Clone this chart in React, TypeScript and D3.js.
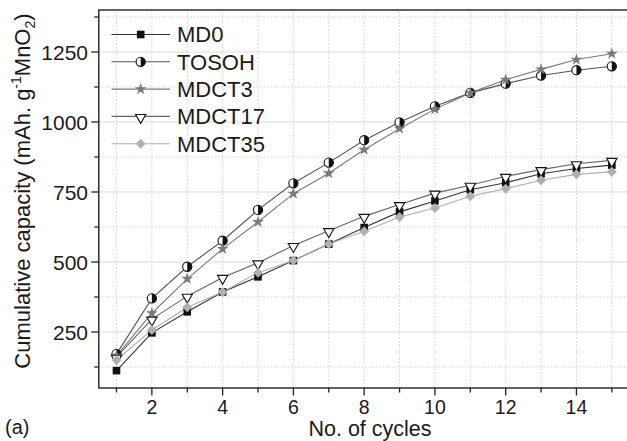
import React from "react";
import * as d3 from "d3";

const CYCLES = [1, 2, 3, 4, 5, 6, 7, 8, 9, 10, 11, 12, 13, 14, 15];
const MD0 = [112, 247, 322, 393, 447, 505, 564, 623, 679, 718, 758, 783, 815, 834, 846];
const TOSOH = [171, 370, 483, 576, 686, 781, 855, 935, 999, 1056, 1104, 1137, 1166, 1185, 1199];
const MDCT3 = [165, 317, 440, 547, 643, 744, 817, 901, 976, 1046, 1104, 1151, 1188, 1223, 1244];
const MDCT17 = [160, 296, 378, 445, 497, 559, 612, 663, 705, 746, 774, 806, 830, 851, 863];
const MDCT35 = [150, 257, 338, 393, 462, 505, 564, 610, 661, 693, 735, 762, 792, 813, 822];

const SERIES_NAMES = ["MD0", "TOSOH", "MDCT3", "MDCT17", "MDCT35"];
const SERIES_VALUES = [MD0, TOSOH, MDCT3, MDCT17, MDCT35];

const X_MAJOR_TICKS = [2, 4, 6, 8, 10, 12, 14];
const X_MINOR_TICKS = [1, 3, 5, 7, 9, 11, 13, 15];
const X_GRID = [1, 2, 3, 4, 5, 6, 7, 8, 9, 10, 11, 12, 13, 14, 15, 16];
const Y_MAJOR_TICKS = [250, 500, 750, 1000, 1250];
const Y_MINOR_TICKS = [125, 375, 625, 875, 1125, 1375];

const W = 627;
const H = 441;
const FONT = "'Liberation Sans', Arial, Helvetica, sans-serif";
const INK = "#1a1a1a";

const STYLE: Record<string, { line: string }> = {
  MD0: { line: "#333" },
  TOSOH: { line: "#555" },
  MDCT3: { line: "#7a7a7a" },
  MDCT17: { line: "#666" },
  MDCT35: { line: "#b0b0b0" },
};

function Marker({ name, x, y }: { name: string; x: number; y: number }) {
  const t = `translate(${x},${y})`;
  if (name === "MD0") {
    return <rect x={x - 3.8} y={y - 3.8} width={7.6} height={7.6} fill="#111" />;
  }
  if (name === "TOSOH") {
    const r = 4.6;
    return (
      <g transform={t}>
        <circle r={r} fill="#fff" stroke="#111" strokeWidth={1.1} />
        <path d={`M0,${-r} A${r},${r} 0 0 1 0,${r} Z`} fill="#111" />
      </g>
    );
  }
  if (name === "MDCT3") {
    const p = d3.symbol().type(d3.symbolStar).size(44)();
    return <path d={p || ""} transform={t} fill="#7a7a7a" />;
  }
  if (name === "MDCT17") {
    const p = d3.symbol().type(d3.symbolTriangle).size(46)();
    return (
      <path
        d={p || ""}
        transform={`${t} rotate(180) translate(0,-1)`}
        fill="#fff"
        stroke="#111"
        strokeWidth={1.1}
      />
    );
  }
  const p = d3.symbol().type(d3.symbolSquare).size(50)();
  return <path d={p || ""} transform={`${t} rotate(45)`} fill="#b0b0b0" />;
}

export default function App() {
  const x = d3.scaleLinear().domain([0.5, 16.5]).range([98.8, 664.9]);
  const y = d3.scaleLinear().domain([50, 1400]).range([388, 10]);
  const x0 = x(0.5);
  const x1 = x(16.5);
  const y0 = y(50);
  const y1 = y(1400);

  const line = d3
    .line<number>()
    .x((_, i) => x(CYCLES[i]))
    .y((d) => y(d));

  return (
    <svg
      width={W}
      height={H}
      style={{ position: "absolute", left: 0, top: 0, background: "#fff" }}
      fontFamily={FONT}
    >
      <rect x={0} y={0} width={W} height={H} fill="#fff" />
      {/* grid */}
      <g>
        {X_GRID.map((v) => (
          <line
            key={"gx" + v}
            x1={x(v)}
            x2={x(v)}
            y1={y0}
            y2={y1}
            stroke="#d9d9d9"
            strokeWidth={1}
            strokeDasharray="2,1.5"
          />
        ))}
        {Y_MAJOR_TICKS.map((v) => (
          <line key={"gy" + v} x1={x0} x2={x1} y1={y(v)} y2={y(v)} stroke="#dcdcdc" strokeWidth={1} />
        ))}
        {Y_MINOR_TICKS.map((v) => (
          <line
            key={"gym" + v}
            x1={x0}
            x2={x1}
            y1={y(v)}
            y2={y(v)}
            stroke="#d9d9d9"
            strokeWidth={1}
            strokeDasharray="2,1.5"
          />
        ))}
      </g>
      {/* series lines */}
      {SERIES_NAMES.map((name, si) => (
        <path
          key={"l" + name}
          d={line(SERIES_VALUES[si]) || ""}
          fill="none"
          stroke={STYLE[name].line}
          strokeWidth={1.1}
        />
      ))}
      {/* markers */}
      {SERIES_NAMES.map((name, si) => (
        <g key={"m" + name}>
          {SERIES_VALUES[si].map((v, i) => (
            <Marker key={i} name={name} x={x(CYCLES[i])} y={y(v)} />
          ))}
        </g>
      ))}
      {/* frame */}
      <rect x={x0} y={y1} width={x1 - x0} height={y0 - y1} fill="none" stroke="#222" strokeWidth={1.4} />
      {/* x ticks */}
      {X_MAJOR_TICKS.map((v) => (
        <g key={"xt" + v}>
          <line x1={x(v)} x2={x(v)} y1={y0} y2={y0 + 7.5} stroke="#222" strokeWidth={1.3} />
          <text x={x(v)} y={414} textAnchor="middle" fontSize={19.5} fill={INK}>
            {v}
          </text>
        </g>
      ))}
      {X_MINOR_TICKS.map((v) => (
        <line key={"xm" + v} x1={x(v)} x2={x(v)} y1={y0} y2={y0 + 4.5} stroke="#222" strokeWidth={1.3} />
      ))}
      <line x1={x(16)} x2={x(16)} y1={y0} y2={y0 + 7.5} stroke="#222" strokeWidth={1.3} />
      {/* y ticks */}
      {Y_MAJOR_TICKS.map((v) => (
        <g key={"yt" + v}>
          <line x1={x0 - 7.5} x2={x0} y1={y(v)} y2={y(v)} stroke="#222" strokeWidth={1.3} />
          <text x={88} y={y(v)} dy="0.36em" textAnchor="end" fontSize={21} fill={INK}>
            {v}
          </text>
        </g>
      ))}
      {Y_MINOR_TICKS.map((v) => (
        <line key={"ym" + v} x1={x0 - 4.5} x2={x0} y1={y(v)} y2={y(v)} stroke="#222" strokeWidth={1.3} />
      ))}
      {/* axis titles */}
      <text x={370} y={436.3} textAnchor="middle" fontSize={21.5} fill={INK}>
        No. of cycles
      </text>
      <text
        transform={`translate(29.5,191) rotate(-90)`}
        textAnchor="middle"
        fontSize={22}
        fill={INK}
      >
        Cumulative capacity (mAh. g
        <tspan fontSize={14} dy={-8.5}>-1</tspan>
        <tspan dy={8.5}>MnO</tspan>
        <tspan fontSize={14} dy={5}>2</tspan>
        <tspan dy={-5}>)</tspan>
      </text>
      <text x={5} y={434} fontSize={20} fill={INK}>
        (a)
      </text>
      {/* legend */}
      {SERIES_NAMES.map((name, i) => {
        const ly = 34.5 + i * 27.3;
        return (
          <g key={"lg" + name}>
            <line x1={111.5} x2={170} y1={ly} y2={ly} stroke={STYLE[name].line} strokeWidth={1.1} />
            <Marker name={name} x={140.7} y={ly} />
            <text x={177} y={ly} dy="0.36em" fontSize={22} fill={INK}>
              {name}
            </text>
          </g>
        );
      })}
    </svg>
  );
}
